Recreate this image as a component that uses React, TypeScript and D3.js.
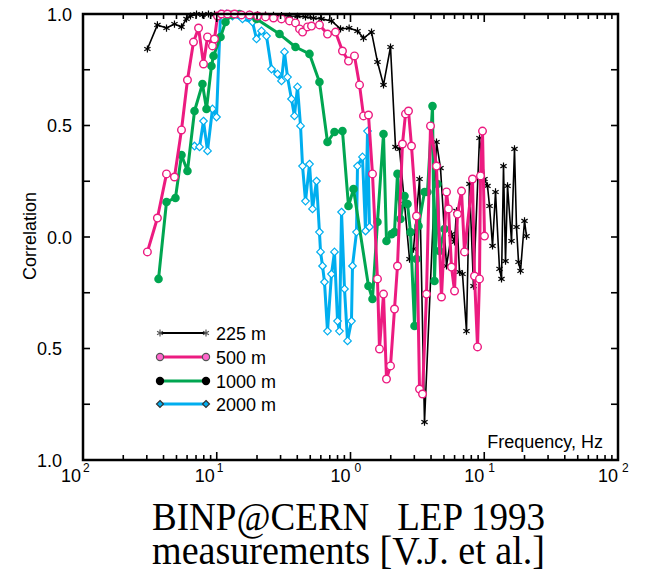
import React from "react";
import * as d3 from "d3";

// [frequency Hz, correlation]
const series225: [number, number][] = [
  [0.0303,0.843],[0.036,0.951],[0.0421,0.937],[0.0483,0.955],[0.0545,0.942],[0.0594,0.978],[0.0636,0.991],[0.0706,1.0],[0.0782,0.996],[0.0867,1.0],[0.0962,0.998],[0.1086,1.0],[0.1203,0.998],[0.1358,0.997],[0.1531,0.996],[0.1758,0.998],[0.2017,0.996],[0.2314,0.995],[0.2656,0.994],[0.3048,0.993],[0.3499,0.991],[0.4015,0.99],[0.4608,0.987],[0.5289,0.982],[0.607,0.978],[0.721,0.969],[0.842,0.933],[0.977,0.937],[1.128,0.924],[1.251,0.892],[1.436,0.919],[1.591,0.785],[1.765,0.682],[1.991,0.852],[2.17,0.404],[2.325,0.395],[2.534,0.148],[2.762,-0.099],[2.958,-0.054],[3.281,0.26],[3.575,-0.83],[4.395,0.426],[4.709,0.309],[5.222,-0.13],[5.69,0.013],[5.995,-0.022],[6.204,0.117],[6.531,-0.157],[6.876,-0.166],[7.365,-0.422],[7.755,0.238],[8.31,-0.22],[9.212,0.444],[10.04,0.26],[10.57,0.229],[10.95,0.139],[11.53,-0.04],[12.14,0.202],[13.0,-0.143],[13.46,-0.188],[13.93,0.318],[14.42,-0.108],[14.93,0.229],[15.99,-0.018],[16.83,0.395],[17.42,0.045],[18.04,-0.112],[18.67,-0.152],[20.0,0.072],[20.7,0.004]
];
const series500: [number, number][] = [
  [0.0303,-0.067],[0.036,0.085],[0.0421,0.283],[0.0483,0.269],[0.0545,0.48],[0.0604,0.704],[0.067,0.874],[0.0731,0.937],[0.0796,0.776],[0.0853,0.897],[0.0929,0.857],[0.0962,0.888],[0.1013,0.991],[0.1086,1.0],[0.1203,1.0],[0.1358,1.0],[0.1531,0.996],[0.1758,0.996],[0.2017,0.991],[0.2314,0.987],[0.2656,0.982],[0.3048,0.978],[0.3499,0.969],[0.388,0.96],[0.416,0.933],[0.438,0.919],[0.477,0.942],[0.511,0.946],[0.586,0.951],[0.673,0.91],[0.773,0.919],[0.871,0.834],[0.966,0.789],[1.071,0.812],[1.168,0.682],[1.251,0.543],[1.363,0.547],[1.46,0.283],[1.591,-0.188],[1.647,-0.502],[1.765,-0.256],[1.858,-0.637],[1.991,-0.578],[2.133,-0.323],[2.245,-0.13],[2.447,0.417],[2.578,0.552],[2.714,0.565],[2.858,0.408],[3.115,0.094],[3.281,-0.682],[3.455,-0.704],[3.7,-0.256],[3.964,0.498],[4.395,0.318],[4.79,-0.269],[5.222,0.202],[5.403,0.126],[5.69,-0.135],[5.995,-0.242],[6.31,0.103],[6.761,0.206],[7.117,-0.067],[8.167,0.26],[8.455,-0.175],[8.906,-0.493],[9.212,-0.188],[9.376,0.274],[9.704,0.475],[10.04,0.004]
];
const series1000: [number, number][] = [
  [0.0367,-0.188],[0.0421,0.157],[0.0491,0.175],[0.0545,0.368],[0.0604,0.296],[0.0682,0.565],[0.0782,0.686],[0.0838,0.574],[0.0913,0.767],[0.0946,0.812],[0.1067,0.897],[0.1163,0.964],[0.1289,0.996],[0.1479,1.0],[0.1983,0.978],[0.2946,0.91],[0.388,0.852],[0.4937,0.821],[0.586,0.695],[0.673,0.426],[0.759,0.471],[0.871,0.475],[0.966,0.139],[1.053,0.215],[1.363,-0.22],[1.46,-0.278],[1.591,0.067],[1.765,0.462],[1.858,-0.018],[2.026,0.013],[2.133,0.022],[2.245,0.283],[2.364,0.081],[2.534,0.184],[2.668,0.148],[2.809,0.022],[3.01,-0.399],[3.115,-0.099],[3.224,0.049],[3.575,0.202],[3.763,0.202],[4.103,0.587],[4.246,-0.197],[4.47,0.238],[4.627,-0.063],[5.045,0.036]
];
const series2000: [number, number][] = [
  [0.0682,0.408],[0.0743,0.404],[0.0796,0.52],[0.0853,0.386],[0.0929,0.574],[0.0996,0.538],[0.1067,1.0],[0.1183,1.0],[0.1312,0.991],[0.1558,0.978],[0.1851,0.964],[0.1983,0.888],[0.2161,0.924],[0.2355,0.901],[0.2567,0.753],[0.2846,0.731],[0.3048,0.7],[0.3209,0.83],[0.338,0.717],[0.362,0.619],[0.381,0.543],[0.4015,0.673],[0.423,0.498],[0.438,0.318],[0.4608,0.161],[0.4937,0.327],[0.52,0.126],[0.557,0.251],[0.586,0.022],[0.597,-0.067],[0.618,-0.13],[0.639,-0.202],[0.673,-0.422],[0.721,-0.166],[0.759,-0.067],[0.8,-0.377],[0.827,-0.422],[0.857,0.112],[0.902,-0.233],[0.95,-0.466],[1.017,-0.377],[1.035,-0.13],[1.109,0.022],[1.128,0.318],[1.229,0.359],[1.295,0.027],[1.34,0.475],[1.387,0.045]
];

const legendLabels = ["225 m", "500 m", "1000 m", "2000 m"];
const yTickValues = [1, 0.5, 0, -0.5, -1];
const yTickLabels = ["1.0", "0.5", "0.0", "0.5", "1.0"];
const xTickValues = [0.01, 0.1, 1, 10, 100];
const xTickExponents = ["2", "1", "0", "1", "2"];
const titleLines = ["BINP@CERN   LEP 1993", "measurements [V.J. et al.]"];

const PINK = "#ec1b80";
const GREEN = "#00a651";
const BLUE = "#00aeef";
const SANS = "'Liberation Sans', Arial, Helvetica, sans-serif";
const SERIF = "'Liberation Serif', 'Times New Roman', serif";

const L = 83, R = 618, T = 14, B = 460;

function Asterisk({ x, y, color, s = 3.6 }: { x: number; y: number; color: string; s?: number }) {
  const a = s * Math.cos(Math.PI / 6), b = s * 0.5;
  return (
    <path
      d={`M${x},${y - s}L${x},${y + s}M${x - a},${y - b}L${x + a},${y + b}M${x - a},${y + b}L${x + a},${y - b}`}
      stroke={color}
      strokeWidth={1.2}
      fill="none"
    />
  );
}

function Diamond({ x, y, stroke, fill, s = 3.8 }: { x: number; y: number; stroke: string; fill: string; s?: number }) {
  return <path d={`M${x},${y - s}L${x + s},${y}L${x},${y + s}L${x - s},${y}Z`} stroke={stroke} strokeWidth={1.2} fill={fill} />;
}

export default function App() {
  const x = d3.scaleLog().domain([0.01, 100]).range([L, R]);
  const y = d3.scaleLinear().domain([-1, 1]).range([B, T]);
  const line = d3
    .line<[number, number]>()
    .x((d) => x(d[0]))
    .y((d) => y(d[1]));

  const minorX = x.ticks(40);
  const yTicks = d3.range(-1, 1.001, 0.25);

  const legendY = [333, 357, 381, 404];

  return (
    <svg
      width={652}
      height={575}
      style={{ position: "absolute", left: 0, top: 0, background: "#fff" }}
      xmlns="http://www.w3.org/2000/svg"
    >
      <rect x={0} y={0} width={652} height={575} fill="#fff" />

      {/* series: black */}
      <path d={line(series225) || ""} fill="none" stroke="#000" strokeWidth={1.6} strokeLinejoin="round" />
      {series225.map((d, i) => (
        <Asterisk key={"a" + i} x={x(d[0])} y={y(d[1])} color="#000" />
      ))}

      {/* blue */}
      <path d={line(series2000) || ""} fill="none" stroke={BLUE} strokeWidth={3} strokeLinejoin="round" />
      {series2000.map((d, i) => (
        <Diamond key={"d" + i} x={x(d[0])} y={y(d[1])} stroke={BLUE} fill="#fff" />
      ))}

      {/* green */}
      <path d={line(series1000) || ""} fill="none" stroke={GREEN} strokeWidth={3} strokeLinejoin="round" />
      {series1000.map((d, i) => (
        <circle key={"g" + i} cx={x(d[0])} cy={y(d[1])} r={4.3} fill={GREEN} />
      ))}

      {/* pink */}
      <path d={line(series500) || ""} fill="none" stroke={PINK} strokeWidth={3} strokeLinejoin="round" />
      {series500.map((d, i) => (
        <circle key={"p" + i} cx={x(d[0])} cy={y(d[1])} r={3.8} fill="#fff" stroke={PINK} strokeWidth={1.4} />
      ))}

      {/* frame */}
      <rect x={L} y={T} width={R - L} height={B - T} fill="none" stroke="#000" strokeWidth={2.5} />

      {/* x ticks bottom/top */}
      {minorX.map((v, i) => {
        const major = Math.abs(Math.log10(v) - Math.round(Math.log10(v))) < 1e-6;
        const len = major ? 8 : 5;
        const px = x(v);
        return (
          <g key={"xt" + i}>
            <line x1={px} x2={px} y1={B} y2={B - len} stroke="#000" strokeWidth={1.6} />
            <line x1={px} x2={px} y1={T} y2={T + len} stroke="#000" strokeWidth={1.6} />
          </g>
        );
      })}
      {/* y ticks left/right */}
      {yTicks.map((v, i) => (
        <g key={"yt" + i}>
          <line x1={L} x2={L + 7} y1={y(v)} y2={y(v)} stroke="#000" strokeWidth={1.6} />
          <line x1={R} x2={R - 7} y1={y(v)} y2={y(v)} stroke="#000" strokeWidth={1.6} />
        </g>
      ))}

      {/* y tick labels */}
      {yTickValues.map((v, i) => (
        <text
          key={"yl" + i}
          x={v < 0 ? 62 : 72}
          y={y(v) + 6.5}
          textAnchor="end"
          fontFamily={SANS}
          fontSize={18}
          fill="#000"
        >
          {yTickLabels[i]}
        </text>
      ))}

      {/* x tick labels */}
      {xTickValues.map((v, i) => {
        const px = x(v);
        const neg = v < 1;
        return (
          <g key={"xl" + i}>
            <text x={px - (neg ? 2 : 0)} y={482} textAnchor="end" fontFamily={SANS} fontSize={18} fill="#000">
              10
            </text>
            <text x={px + (neg ? 0 : 4)} y={472} textAnchor="start" fontFamily={SANS} fontSize={12} fill="#000">
              {xTickExponents[i]}
            </text>
          </g>
        );
      })}

      {/* axis titles */}
      <text
        transform="translate(36,236) rotate(-90)"
        textAnchor="middle"
        fontFamily={SANS}
        fontSize={18}
        fill="#000"
      >
        Correlation
      </text>
      <text x={603} y={448} textAnchor="end" fontFamily={SANS} fontSize={18} fill="#000">
        Frequency, Hz
      </text>

      {/* legend */}
      {legendLabels.map((lab, i) => {
        const ly = legendY[i];
        const color = ["#000", PINK, GREEN, BLUE][i];
        const sw = i === 0 ? 1.8 : 3;
        return (
          <g key={"lg" + i}>
            <line x1={160} x2={206} y1={ly} y2={ly} stroke={color} strokeWidth={sw} />
            {[160, 206].map((mx, j) =>
              i === 0 ? (
                <Asterisk key={j} x={mx} y={ly} color="#555" s={3.4} />
              ) : i === 1 ? (
                <circle key={j} cx={mx} cy={ly} r={3.6} fill="#f6c" stroke="#555" strokeWidth={1.2} />
              ) : i === 2 ? (
                <circle key={j} cx={mx} cy={ly} r={4.2} fill="#000" />
              ) : (
                <Diamond key={j} x={mx} y={ly} stroke="#333" fill={BLUE} s={3.5} />
              )
            )}
            <text x={216} y={ly + 6.5} fontFamily={SANS} fontSize={18} fill="#000">
              {lab}
            </text>
          </g>
        );
      })}

      {/* title */}
      {titleLines.map((t, i) => (
        <text
          key={"tt" + i}
          x={152}
          y={530 + i * 34}
          textAnchor="start"
          fontFamily={SERIF}
          fontSize={41}
          textLength={393}
          lengthAdjust="spacingAndGlyphs"
          fill="#000"
          style={{ whiteSpace: "pre" }}
        >
          {t}
        </text>
      ))}
    </svg>
  );
}
